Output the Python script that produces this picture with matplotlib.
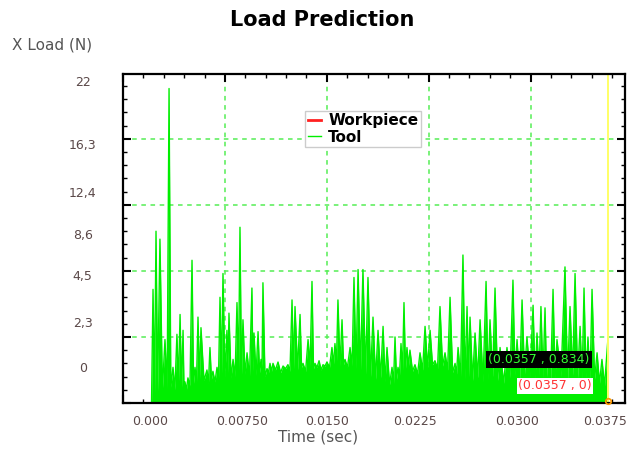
import numpy as np
import matplotlib
matplotlib.use("Agg")
import matplotlib.pyplot as plt
from matplotlib.ticker import MultipleLocator

# Tool load, time in ms (peaks and valleys), 10 per row
tool_time_ms = [
    0.00, 2.10, 2.21, 2.32, 2.43, 2.55, 2.72, 2.90, 3.09, 3.25,
    3.39, 3.52, 3.68, 3.82, 3.97, 4.08, 4.20, 4.31, 4.42, 4.49,
    4.56, 4.67, 4.78, 4.93, 5.08, 5.19, 5.30, 5.41, 5.52, 5.63,
    5.74, 5.96, 6.18, 6.29, 6.40, 6.51, 6.62, 6.77, 6.92, 7.03,
    7.14, 7.25, 7.36, 7.50, 7.65, 7.72, 7.80, 7.95, 8.10, 8.25,
    8.39, 8.50, 8.61, 8.72, 8.83, 8.98, 9.13, 9.31, 9.49, 9.56,
    9.64, 9.79, 9.94, 10.05, 10.16, 10.23, 10.30, 10.45, 10.60, 10.71,
    10.82, 10.93, 11.04, 11.22, 11.41, 11.60, 11.78, 11.96, 12.14, 12.29,
    12.44, 12.55, 12.66, 12.85, 13.03, 13.14, 13.25, 13.44, 13.62, 13.77,
    13.91, 14.02, 14.13, 14.28, 14.43, 14.58, 14.72, 14.87, 15.01, 15.20,
    15.38, 15.49, 15.60, 15.71, 15.82, 15.97, 16.12, 16.23, 16.34, 16.52,
    16.71, 16.86, 17.00, 17.15, 17.30, 17.48, 17.66, 17.85, 18.03, 18.22,
    18.40, 18.59, 18.77, 18.96, 19.14, 19.29, 19.43, 19.62, 19.80, 19.91,
    20.02, 20.13, 20.24, 20.35, 20.46, 20.57, 20.68, 20.79, 20.90, 21.01,
    21.12, 21.31, 21.49, 21.68, 21.86, 22.05, 22.23, 22.42, 22.60, 22.78,
    22.96, 23.15, 23.33, 23.52, 23.70, 23.89, 24.07, 24.26, 24.44, 24.55,
    24.66, 24.84, 25.02, 25.17, 25.32, 25.43, 25.54, 25.73, 25.91, 26.10,
    26.28, 26.50, 26.72, 26.87, 27.01, 27.20, 27.38, 27.57, 27.75, 28.01,
    28.26, 28.48, 28.70, 28.85, 29.00, 29.19, 29.37, 29.55, 29.73, 29.96,
    30.18, 30.33, 30.47, 30.62, 30.76, 30.91, 31.06, 31.17, 31.28, 31.47,
    31.65, 31.80, 31.94, 32.24, 32.53, 32.72, 32.90, 33.09, 33.27, 33.46,
    33.64, 33.79, 33.93, 34.08, 34.22, 34.37, 34.52, 34.71, 34.89, 35.07,
    35.25, 35.44, 35.70,
]
tool_load = [
    0.0, 0.0, 8.6, 0.8, 13.0, 0.9, 12.4, 1.0, 4.8, 1.1,
    23.8, 1.2, 2.7, 1.0, 5.2, 1.4, 6.7, 1.2, 5.5, 1.0,
    1.6, 1.0, 1.9, 1.3, 10.8, 1.5, 2.7, 1.6, 6.5, 1.8,
    5.7, 1.7, 2.5, 1.5, 4.2, 1.8, 2.4, 1.6, 2.7, 1.9,
    8.0, 2.2, 9.8, 2.0, 5.5, 2.3, 6.8, 1.9, 3.3, 2.0,
    7.6, 2.3, 13.3, 2.1, 6.3, 2.2, 3.8, 2.0, 8.7, 2.4,
    5.3, 2.1, 5.4, 2.3, 3.3, 2.2, 9.1, 2.0, 2.6, 2.3,
    3.0, 2.4, 3.0, 2.5, 3.1, 2.3, 2.8, 2.6, 2.9, 2.4,
    7.8, 2.6, 7.3, 2.5, 6.7, 2.7, 3.0, 2.4, 4.8, 2.8,
    9.2, 2.6, 3.0, 2.7, 3.2, 2.5, 2.9, 2.8, 3.1, 2.7,
    4.2, 2.9, 4.5, 3.0, 7.8, 2.8, 6.3, 2.9, 3.3, 2.7,
    4.2, 2.8, 9.5, 2.6, 10.1, 2.5, 10.1, 2.2, 9.5, 2.0,
    6.5, 1.8, 5.5, 1.9, 5.8, 1.6, 4.2, 1.4, 2.7, 1.5,
    5.0, 1.8, 2.7, 2.1, 4.5, 2.4, 7.6, 2.6, 4.2, 2.8,
    4.0, 2.4, 2.9, 2.2, 3.8, 2.5, 5.8, 2.7, 5.5, 2.9,
    3.2, 2.6, 7.3, 2.8, 3.8, 2.5, 8.0, 2.3, 3.0, 2.2,
    4.2, 2.0, 11.2, 1.8, 7.3, 2.0, 6.5, 1.7, 5.3, 1.9,
    6.3, 1.6, 9.2, 1.8, 6.3, 2.0, 8.7, 1.7, 4.2, 1.5,
    4.2, 1.9, 9.3, 2.1, 4.8, 1.8, 7.8, 2.2, 5.0, 2.0,
    7.4, 1.8, 5.3, 2.1, 7.3, 1.9, 7.2, 2.0, 3.8, 1.7,
    8.6, 1.9, 4.8, 2.0, 10.3, 1.8, 7.3, 2.1, 9.8, 1.9,
    5.8, 1.7, 8.7, 1.9, 5.0, 1.6, 8.6, 1.8, 3.8, 1.5,
    3.3, 1.3, 5.0,
]
workpiece_time_ms = [0.0, 35.70]
workpiece_load = [0.0, 0.0]

cursor_value_text = "0.834"
x_label_pos_ms = [1.99, 8.76, 15.01, 21.49, 29.0, 35.48]
x_labels = ["0.000", "0.00750", "0.0150", "0.0225", "0.0300", "0.0375"]
y_label_pos = [2.7, 6.1, 9.7, 12.8, 16.0, 19.6, 24.4]
y_labels = ["0", "2,3", "4,5", "8,6", "12,4", "16,3", "22"]

t_tool = np.array(tool_time_ms) / 1000.0
t_work = np.array(workpiece_time_ms) / 1000.0
t_cursor = t_tool[-1]

fig = plt.figure(figsize=(6.32, 4.55), dpi=100)
ax = fig.add_axes([0.1946, 0.1143, 0.7944, 0.7231])

green = "#00ee00"
ax.fill_between(t_tool, 0, tool_load, color=green, lw=0, zorder=1.5)
ax.plot(t_tool, tool_load, color=green, lw=1.0, label="Tool", zorder=1.6)
ax.plot(t_work, workpiece_load, color="#ff2020", lw=2.0, label="Workpiece", zorder=1.7)
ax.axvline(t_cursor, color="#ffff66", lw=1.4, zorder=1.8)
ax.plot([t_cursor], [0.15], marker="o", ms=4, mfc="none", mec="#ff9900", mew=1.2,
        zorder=6, clip_on=False)

ax.set_xlim(0, 0.03695)
ax.set_ylim(0, 24.9)
ax.xaxis.set_major_locator(MultipleLocator(0.0075))
ax.xaxis.set_minor_locator(MultipleLocator(0.0015))
ax.yaxis.set_major_locator(MultipleLocator(5))
ax.yaxis.set_minor_locator(MultipleLocator(1))
ax.tick_params(which="both", direction="in", top=True, right=True,
               labelbottom=False, labelleft=False, color="black")
ax.tick_params(which="major", length=6, width=1.5)
ax.tick_params(which="minor", length=3, width=1)
ax.grid(which="major", color="#55ee55", linestyle=(0, (3, 3)), lw=1.1)
ax.set_axisbelow(True)
for s in ax.spines.values():
    s.set_linewidth(1.6)

# tick labels as drawn in the reference (offset from the tick marks)
secx = ax.secondary_xaxis("bottom")
secx.set_xticks(np.array(x_label_pos_ms) / 1000.0, x_labels)
secx.tick_params(length=0, pad=9, labelsize=9, labelcolor="#5a4848")
secx.spines["bottom"].set_visible(False)

secy = ax.secondary_yaxis("left")
secy.set_yticks(y_label_pos, y_labels)
secy.tick_params(length=0, pad=29, labelsize=9, labelcolor="#5a4848")
for lbl in secy.get_yticklabels():
    lbl.set_horizontalalignment("center")
secy.spines["left"].set_visible(False)

ax.text(0.03062, 3.27, f"({t_cursor:.4f} , {cursor_value_text})", color="#33ff33",
        fontsize=9, ha="center", va="center", zorder=7,
        bbox=dict(facecolor="black", edgecolor="none", pad=1.5))
ax.text(0.0318, 1.29, f"({t_cursor:.4f} , {workpiece_load[-1]:g})", color="#ff3333",
        fontsize=9, ha="center", va="center", zorder=7,
        bbox=dict(facecolor="white", edgecolor="none", pad=1.0))

handles, labels = ax.get_legend_handles_labels()
order = [labels.index("Workpiece"), labels.index("Tool")]
leg = ax.legend([handles[i] for i in order], [labels[i] for i in order],
                loc="upper left", bbox_to_anchor=(0.363, 0.888),
                prop={"weight": "bold", "size": 11}, handlelength=0.9,
                labelspacing=0.1, borderpad=0.15, handletextpad=0.45,
                fancybox=False, framealpha=1, borderaxespad=0)
leg.get_frame().set_edgecolor("#cccccc")
leg.set_zorder(8)

fig.text(0.51, 0.956, "Load Prediction", fontsize=15, fontweight="bold",
         ha="center", va="center")
fig.text(0.019, 0.901, "X Load (N)", fontsize=11, color="#555555",
         ha="left", va="center")
fig.text(0.503, 0.04, "Time (sec)", fontsize=11, color="#555555",
         ha="center", va="center")

fig.savefig("out.png", dpi=100)
